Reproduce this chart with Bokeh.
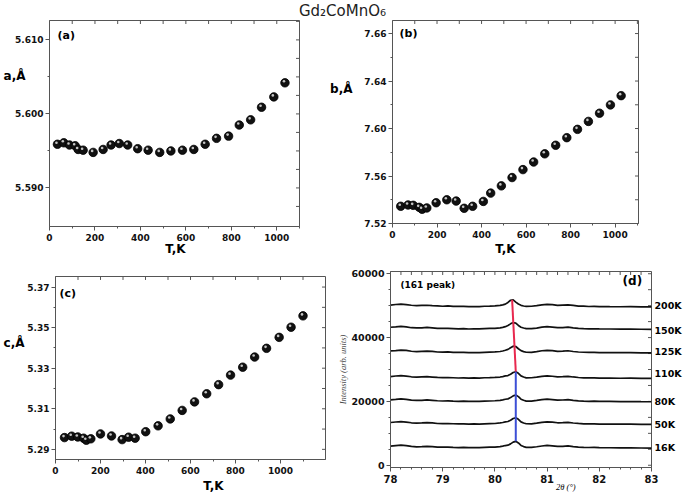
from bokeh.plotting import figure
from bokeh.models import Range1d, LinearAxis, FixedTicker, Label, NumeralTickFormatter, ColumnDataSource
from bokeh.layouts import column, row
from bokeh.embed import file_html
from bokeh.resources import INLINE
from bokeh.transform import dodge

# ---------------- data ----------------
TITLE = "Gd\u2082CoMnO\u2086"

T_a = [35, 63, 88, 113, 126, 148, 192, 236, 271, 307, 344, 388, 434, 485, 534, 585, 635,
       685, 735, 788, 835, 885, 933, 987, 1036]
a_vals = [5.5959, 5.5961, 5.5958, 5.5957, 5.5952, 5.5951, 5.5948, 5.5952, 5.5958, 5.5960,
          5.5958, 5.5953, 5.5951, 5.5948, 5.5950, 5.5951, 5.5952, 5.5959, 5.5967, 5.5970,
          5.5985, 5.5992, 5.6009, 5.6023, 5.6042]

T_b = [37, 70, 93, 120, 133, 154, 196, 244, 286, 322, 360, 408, 441, 489, 537, 586, 634,
       684, 733, 783, 831, 880, 930, 979, 1027]
b_vals = [7.5345, 7.5356, 7.5353, 7.5336, 7.5320, 7.5331, 7.5375, 7.5400, 7.5389, 7.5328,
          7.5345, 7.5386, 7.5456, 7.5517, 7.5587, 7.5654, 7.5718, 7.5787, 7.5859, 7.5923,
          7.5993, 7.6060, 7.6129, 7.6199, 7.6277]

T_c = [40, 72, 99, 125, 137, 157, 200, 249, 296, 325, 354, 401, 456, 510, 563, 618, 672,
       725, 778, 832, 885, 938, 994, 1047, 1100]
c_vals = [5.2958, 5.2965, 5.2961, 5.2955, 5.2945, 5.2952, 5.2976, 5.2966, 5.2948, 5.2960,
          5.2955, 5.2987, 5.3016, 5.3050, 5.3092, 5.3134, 5.3174, 5.3219, 5.3266, 5.3305,
          5.3355, 5.3398, 5.3452, 5.3502, 5.3558]

two_theta = [78.0, 78.1, 78.2, 78.3, 78.4, 78.5, 78.6, 78.7, 78.8, 78.9, 79.0, 79.1, 79.2,
             79.3, 79.4, 79.5, 79.6, 79.7, 79.8, 79.9, 80.0, 80.1, 80.15, 80.2, 80.25, 80.3,
             80.35, 80.4, 80.45, 80.5, 80.55, 80.6, 80.7, 80.8, 80.9, 81.0, 81.1, 81.2, 81.3,
             81.4, 81.5, 81.6, 81.7, 81.8, 81.9, 82.0, 82.2, 82.4, 82.6, 82.8, 83.0]
I_200K = [50180, 50370, 50460, 50330, 50120, 49980, 50090, 50130, 50020, 49930, 49820, 49910,
          49770, 49780, 49760, 49720, 49730, 49680, 49810, 49870, 49950, 50080, 50250, 50480,
          51000, 51700, 51800, 51100, 50500, 50100, 49900, 49780, 49820, 49990, 50220, 50380,
          50310, 50080, 50170, 50230, 50060, 49880, 49830, 49740, 49790, 49720, 49670, 49660,
          49690, 49620, 49590]
I_150K = [43230, 43330, 43480, 43370, 43090, 43020, 43030, 43170, 43040, 42880, 42870, 42890,
          42810, 42730, 42790, 42690, 42760, 42710, 42790, 42860, 42910, 43040, 43190, 43420,
          43800, 44300, 44700, 44550, 43800, 43250, 43000, 42790, 42830, 42980, 43260, 43410,
          43280, 43110, 43130, 43260, 43040, 42890, 42810, 42740, 42770, 42710, 42680, 42660,
          42670, 42610, 42590]
I_125K = [35810, 35930, 36060, 35970, 35710, 35580, 35660, 35730, 35660, 35490, 35440, 35520,
          35390, 35370, 35380, 35310, 35330, 35310, 35390, 35470, 35510, 35640, 35790, 36020,
          36300, 36800, 37300, 37200, 36500, 35900, 35600, 35410, 35380, 35590, 35870, 35990,
          35910, 35680, 35760, 35870, 35640, 35490, 35410, 35340, 35380, 35300, 35280, 35260,
          35290, 35210, 35190]
I_110K = [27790, 27960, 28080, 27940, 27720, 27590, 27670, 27740, 27630, 27510, 27430, 27490,
          27410, 27330, 27390, 27290, 27360, 27290, 27410, 27440, 27520, 27640, 27790, 27980,
          28100, 28500, 29050, 29300, 28800, 28000, 27650, 27390, 27420, 27610, 27840, 28010,
          27890, 27710, 27740, 27860, 27660, 27490, 27390, 27360, 27390, 27310, 27290, 27260,
          27280, 27210, 27200]
I_80K = [20510, 20640, 20790, 20660, 20390, 20310, 20340, 20460, 20340, 20210, 20140, 20190,
         20110, 20040, 20090, 20010, 20060, 19990, 20110, 20140, 20210, 20340, 20490, 20680,
         20800, 21200, 21750, 22000, 21500, 20700, 20350, 20090, 20120, 20310, 20540, 20710,
         20590, 20410, 20440, 20560, 20340, 20190, 20110, 20040, 20090, 20010, 19990, 19960,
         19980, 19910, 19900]
I_50K = [13390, 13560, 13690, 13540, 13310, 13190, 13260, 13340, 13260, 13090, 13060, 13090,
         13010, 12940, 12990, 12910, 12940, 12910, 12990, 13060, 13090, 13260, 13390, 13590,
         13700, 14100, 14650, 14900, 14400, 13600, 13250, 13010, 12990, 13210, 13440, 13610,
         13490, 13310, 13340, 13460, 13240, 13110, 12990, 12960, 12980, 12910, 12890, 12860,
         12880, 12810, 12800]
I_16K = [5990, 6160, 6280, 6160, 5910, 5790, 5860, 5940, 5860, 5690, 5660, 5690,
         5610, 5540, 5590, 5510, 5540, 5510, 5590, 5660, 5690, 5860, 5990, 6180,
         6300, 6700, 7250, 7500, 7000, 6200, 5850, 5610, 5590, 5810, 6040, 6210,
         6090, 5910, 5940, 6060, 5840, 5710, 5590, 5560, 5580, 5510, 5490, 5460,
         5480, 5410, 5400]
temps = ["200K", "150K", "125K", "110K", "80K", "50K", "16K"]
label_levels = [49900, 42340, 35660, 28800, 20060, 12790, 5520]
red_x = [80.33, 80.40]
red_y = [51800, 29300]
blue_x = [80.40, 80.40]
blue_y = [29300, 7500]

# tick definitions
a_ticks = [5.59, 5.60, 5.61]
a_minor = [5.595, 5.605]
a_right = [5.5875, 5.59, 5.5925, 5.595, 5.5975, 5.60, 5.6025, 5.605, 5.6075, 5.61, 5.6125]
b_ticks = [7.52, 7.56, 7.60, 7.64, 7.68]
b_tick_text = {7.68: "7.66"}
b_minor = [7.54, 7.58, 7.62, 7.66]
b_right = [7.54, 7.56, 7.58, 7.60, 7.62, 7.64, 7.66, 7.68]
c_ticks = [5.29, 5.31, 5.33, 5.35, 5.37]
c_minor = [5.30, 5.32, 5.34, 5.36]
c_right = [5.29, 5.30, 5.31, 5.32, 5.33, 5.34, 5.35, 5.36, 5.37]
T_ticks = [0, 200, 400, 600, 800, 1000]
T_minor = [100, 300, 500, 700, 900, 1100]
T_top = [100, 200, 300, 400, 500, 600, 700, 800, 900, 1000, 1100]
d_xticks = [78, 79, 80, 81, 82, 83]
d_xminor = [78.2, 78.4, 78.6, 78.8, 79.2, 79.4, 79.6, 79.8, 80.2, 80.4, 80.6, 80.8,
            81.2, 81.4, 81.6, 81.8, 82.2, 82.4, 82.6, 82.8]
d_yticks = [0, 20000, 40000, 60000]
d_yminor = [5000, 10000, 15000, 25000, 30000, 35000, 45000, 50000, 55000]

FONT = "DejaVu Sans"
SERIF = "Liberation Serif"
AXC = "#555555"


def style_axis(ax, fs="9px"):
    ax.axis_line_color = AXC
    ax.major_tick_line_color = AXC
    ax.minor_tick_line_color = AXC
    ax.major_tick_out = 4
    ax.major_tick_in = 0
    ax.minor_tick_out = 2
    ax.minor_tick_in = 0
    ax.major_label_text_font = FONT
    ax.major_label_text_font_style = "bold"
    ax.major_label_text_font_size = fs
    ax.major_label_text_color = "#111111"
    ax.major_label_standoff = 2


def panel(width, height, borders, frame, xr, yr, xt, xm, xtop, yt, ym, yright, yfmt, xfmt="0",
          xfs="9px", yfs="9px"):
    bl, br, bt, bb = borders
    p = figure(width=width, height=height, x_range=Range1d(*xr), y_range=Range1d(*yr),
               toolbar_location=None, output_backend="svg",
               min_border_left=bl, min_border_right=br, min_border_top=bt, min_border_bottom=bb)
    p.frame_align = False
    p.grid.visible = False
    p.outline_line_color = AXC
    p.background_fill_color = "white"
    p.border_fill_color = "white"
    xa = p.xaxis[0]
    xa.ticker = FixedTicker(ticks=xt, minor_ticks=xm)
    xa.formatter = NumeralTickFormatter(format=xfmt)
    style_axis(xa, xfs)
    xa.major_label_standoff = 3
    ya = p.yaxis[0]
    ya.ticker = FixedTicker(ticks=yt, minor_ticks=ym)
    ya.formatter = NumeralTickFormatter(format=yfmt)
    style_axis(ya, yfs)
    p._frame = frame
    p._xr = xr
    p._yr = yr
    # inward ticks on top and right edges, drawn from the tick lists
    l, t, w, h = frame
    ky = 3.5 * (yr[1] - yr[0]) / h
    kx = 3.5 * (xr[1] - xr[0]) / w
    p.segment(x0=xtop, y0=[yr[1]] * len(xtop), x1=xtop, y1=[yr[1] - ky] * len(xtop),
              line_color=AXC, line_width=1)
    p.segment(x0=[xr[1]] * len(yright), y0=yright, x1=[xr[1] - kx] * len(yright), y1=yright,
              line_color=AXC, line_width=1)
    return p


def to_data(p, px, py):
    l, t, w, h = p._frame
    x0, x1 = p._xr
    y0, y1 = p._yr
    return x0 + (px - l) / w * (x1 - x0), y1 - (py - t) / h * (y1 - y0)


def add_text(p, px, py, text, size, style="bold", align="left", font=FONT):
    x, y = to_data(p, px, py)
    p.add_layout(Label(x=x, y=y, text=text, text_font=font, text_font_size=size,
                       text_font_style=style, text_color="#000000", text_align=align,
                       text_baseline="middle"))


def side_text(p, side, positions, texts, size, standoff, style="bold", font=FONT):
    vals = []
    for pos in positions:
        if side in ("left", "right"):
            v = to_data(p, 0, pos)[1]
        else:
            v = to_data(p, pos, 0)[0]
        vals.append(round(v, 6))
    ax = LinearAxis(ticker=FixedTicker(ticks=vals, minor_ticks=[]),
                    major_label_overrides=dict(zip(vals, texts)))
    ax.axis_line_color = None
    ax.major_tick_line_color = None
    ax.minor_tick_line_color = None
    ax.major_tick_out = 0
    ax.major_tick_in = 0
    ax.minor_tick_out = 0
    ax.minor_tick_in = 0
    ax.major_label_text_font = font
    ax.major_label_text_font_style = style
    ax.major_label_text_font_size = size
    ax.major_label_text_color = "#000000"
    ax.major_label_standoff = standoff
    p.add_layout(ax, side)


def spheres(p, xs, ys):
    l, t, w, h = p._frame
    dx = -1.0 * (p._xr[1] - p._xr[0]) / w
    dy = 1.5 * (p._yr[1] - p._yr[0]) / h
    src = ColumnDataSource(dict(x=xs, y=ys))
    p.scatter("x", "y", source=src, size=8.5, marker="circle", fill_color="#111111",
              line_color="#000000", line_width=0.8)
    p.scatter(dodge("x", dx), dodge("y", dy), source=src, size=2.6, marker="circle",
              fill_color="#d8d8d8", line_color=None, fill_alpha=0.9)


# ---------------- title strip ----------------
pt = figure(width=684, height=19, x_range=Range1d(0, 1), y_range=Range1d(0, 1),
            toolbar_location=None, output_backend="svg", min_border=0,
            x_axis_location=None, y_axis_location=None)
pt.grid.visible = False
pt.outline_line_color = None
pt.add_layout(Label(x=342 / 684, y=1 - 10.5 / 19, text=TITLE,
                    text_font=FONT, text_font_size="15px", text_color="#222222",
                    text_align="center", text_baseline="middle"))

# ---------------- panel (a) ----------------
pa = panel(326, 239, (49, 27, 1, 32), (49, 20, 250, 206), (0, 1100), (5.58479, 5.61262),
           T_ticks, T_minor, T_top, a_ticks, a_minor, a_right, "0.000")
spheres(pa, T_a, a_vals)
add_text(pa, 57, 35, "(a)", "11px")
side_text(pa, "left", [75.7], ["a,\u00c5"], "12px", -13)
side_text(pa, "below", [175], ["T,K"], "12px", -2)

# ---------------- panel (b) ----------------
pb = panel(358, 239, (66, 46, 1, 34), (392, 20, 246, 204), (0, 1105), (7.52, 7.691),
           T_ticks, T_minor, T_top, b_ticks, b_minor, b_right, "0.00")
pb.yaxis[0].major_label_overrides = b_tick_text
spheres(pb, T_b, b_vals)
add_text(pb, 399, 33.5, "(b)", "11px")
side_text(pb, "left", [89], ["b,\u00c5"], "12px", 9)
side_text(pb, "below", [505], ["T,K"], "12px", 1)

# ---------------- panel (c) ----------------
pc = panel(334, 237, (53, 9, 18, 33), (53, 276, 272, 186), (0, 1200), (5.285, 5.3752),
           T_ticks, T_minor, T_top, c_ticks, c_minor, c_right, "0.00")
spheres(pc, T_c, c_vals)
add_text(pc, 57, 293, "(c)", "11px")
side_text(pc, "left", [344], ["c,\u00c5"], "12px", 0)
side_text(pc, "below", [212], ["T,K"], "12px", 2)

# ---------------- panel (d) ----------------
pd = panel(350, 237, (56, 32, 13, 28), (390, 271, 262, 196), (78, 83), (-700, 60700),
           d_xticks, d_xminor, d_xticks + d_xminor, d_yticks, d_yminor, d_yticks + d_yminor,
           "0", xfmt="0", xfs="10px", yfs="9.5px")
for ys in [I_200K, I_150K, I_125K, I_110K, I_80K, I_50K, I_16K]:
    pd.line(two_theta, ys, line_color="#111111", line_width=1.7)
pd.line(red_x, red_y, line_color="#e8294f", line_width=2)
pd.line(blue_x, blue_y, line_color="#3c4fd6", line_width=2)
pd.add_layout(LinearAxis(ticker=FixedTicker(ticks=label_levels, minor_ticks=[]),
                         major_label_overrides=dict(zip(label_levels, temps)),
                         axis_line_color=None, major_tick_line_color=None,
                         minor_tick_line_color=None, major_tick_out=0, major_tick_in=0,
                         minor_tick_out=0, minor_tick_in=0, major_label_standoff=3,
                         major_label_text_font=FONT, major_label_text_font_style="bold",
                         major_label_text_font_size="9.5px", major_label_text_color="#000000"),
              "right")
pd.yaxis[0].axis_label = "Intensity (arb. units)"
pd.yaxis[0].axis_label_text_font = SERIF
pd.yaxis[0].axis_label_text_font_style = "italic"
pd.yaxis[0].axis_label_text_font_size = "8.5px"
pd.yaxis[0].axis_label_standoff = 0
add_text(pd, 400, 284.5, "(161 peak)", "9px")
add_text(pd, 623, 280.5, "(d)", "12px")
side_text(pd, "below", [566], ["2\u03b8 (\u00b0)"], "8.5px", -4, style="italic", font=SERIF)

layout = column(pt, row(pa, pb), row(pc, pd))
open("out.html", "w").write(file_html(layout, INLINE))
